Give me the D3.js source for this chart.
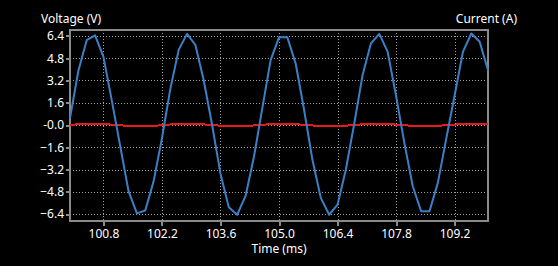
<!DOCTYPE html>
<html>
<head>
<meta charset="utf-8">
<script src="https://cdn.jsdelivr.net/npm/d3@7"></script>
<style>
  html, body { margin: 0; padding: 0; background: #000; }
  svg { display: block; }
  text { font-family: "Noto Sans", "DejaVu Sans", sans-serif; fill: #fff; }
  .grid-line { stroke: #a0a0a0; stroke-width: 1; stroke-dasharray: 1,2; shape-rendering: crispEdges; }
  .frame { fill: none; stroke: #8a8a8a; stroke-width: 2; shape-rendering: crispEdges; }
  .axis path { display: none; }
  .axis line { stroke: #8a8a8a; stroke-width: 2; shape-rendering: crispEdges; }
  .axis text { fill: #fff; font-size: 12px; }
</style>
</head>
<body>
<div id="chart"></div>
<script>
// sample times (ms), 0.2 ms spacing
const times = [100.0, 100.2, 100.4, 100.6, 100.8, 101.0, 101.2, 101.4, 101.6, 101.8,
  102.0, 102.2, 102.4, 102.6, 102.8, 103.0, 103.2, 103.4, 103.6, 103.8,
  104.0, 104.2, 104.4, 104.6, 104.8, 105.0, 105.2, 105.4, 105.6, 105.8,
  106.0, 106.2, 106.4, 106.6, 106.8, 107.0, 107.2, 107.4, 107.6, 107.8,
  108.0, 108.2, 108.4, 108.6, 108.8, 109.0, 109.2, 109.4, 109.6, 109.8, 110.0];

const voltage = [0.5, 3.9, 6.1, 6.45, 4.9, 1.75, -1.5, -4.75, -6.35, -6.15,
  -4.05, -0.95, 2.6, 5.4, 6.55, 5.75, 3.2, 0.0, -3.5, -5.92,
  -6.45, -5.1, -2.3, 1.2, 4.66, 6.3, 6.3, 4.4, 1.1, -2.5,
  -5.24, -6.45, -5.73, -3.2, 0.1, 3.6, 5.87, 6.55, 5.26, 2.1,
  -1.3, -4.4, -6.2, -6.2, -4.16, -1.0, 2.1, 5.26, 6.58, 5.99, 3.94];

const current = [0.007, 0.055, 0.085, 0.090, 0.069, 0.025, -0.021, -0.067, -0.089, -0.086,
  -0.057, -0.013, 0.036, 0.076, 0.092, 0.080, 0.045, 0.000, -0.049, -0.083,
  -0.090, -0.071, -0.032, 0.017, 0.065, 0.088, 0.088, 0.062, 0.015, -0.035,
  -0.073, -0.090, -0.080, -0.045, 0.001, 0.054, 0.082, 0.092, 0.074, 0.029,
  -0.018, -0.062, -0.087, -0.087, -0.058, -0.014, 0.029, 0.074, 0.092, 0.084, 0.055];

const xTicks = [100.8, 102.2, 103.6, 105.0, 106.4, 107.8, 109.2];
const yTicks = [6.4, 4.8, 3.2, 1.6, 0.0, -1.6, -3.2, -4.8, -6.4];

const W = 558, H = 266;
const margin = { top: 30, right: 70, bottom: 45, left: 70 };

const svg = d3.select("#chart").append("svg")
    .attr("width", W)
    .attr("height", H);

const x = d3.scaleLinear().domain([100, 110]).range([margin.left, W - margin.right]);
const y = d3.scaleLinear().domain([-6.9, 6.83]).range([H - margin.bottom, margin.top]);
// current axis (right side, no tick labels)
const yI = d3.scaleLinear().domain([-6.9, 6.83]).range([H - margin.bottom, margin.top]);

// GRID LINES
svg.selectAll(".grid-x")
    .data(xTicks)
    .enter().append("line")
    .attr("class", "grid-line")
    .attr("x1", d => Math.round(x(d)) + 0.5)
    .attr("x2", d => Math.round(x(d)) + 0.5)
    .attr("y1", margin.top)
    .attr("y2", H - margin.bottom);

svg.selectAll(".grid-y")
    .data(yTicks)
    .enter().append("line")
    .attr("class", "grid-line")
    .attr("x1", margin.left)
    .attr("x2", W - margin.right)
    .attr("y1", d => Math.round(y(d)) + 0.5)
    .attr("y2", d => Math.round(y(d)) + 0.5);

// AXES
svg.append("g")
    .attr("class", "axis x-axis")
    .attr("transform", `translate(0,${H - margin.bottom})`)
    .call(d3.axisBottom(x).tickValues(xTicks).tickSize(5).tickPadding(3)
        .tickFormat(d3.format(".1f")));

svg.append("g")
    .attr("class", "axis y-axis")
    .attr("transform", `translate(${margin.left},0)`)
    .call(d3.axisLeft(y).tickValues(yTicks).tickSize(4).tickPadding(2)
        .tickFormat(d => d === 0 ? "-0.0" : d3.format(".1f")(d)));

// frame
svg.append("rect")
    .attr("class", "frame")
    .attr("x", margin.left)
    .attr("y", margin.top)
    .attr("width", W - margin.left - margin.right)
    .attr("height", H - margin.top - margin.bottom);

// LINES
const vLine = d3.line()
    .x((d, i) => x(times[i]))
    .y(d => y(d));

const iLine = d3.line()
    .x((d, i) => x(times[i]))
    .y(d => yI(d));

svg.append("path")
    .datum(current)
    .attr("fill", "none")
    .attr("stroke", "#e8191c")
    .attr("stroke-width", 2)
    .attr("shape-rendering", "crispEdges")
    .attr("d", iLine);

svg.append("path")
    .datum(voltage)
    .attr("fill", "none")
    .attr("stroke", "#3b80c6")
    .attr("stroke-width", 2)
    .attr("stroke-linejoin", "round")
    .attr("d", vLine);

// AXIS TITLES
svg.append("text")
    .attr("x", 41)
    .attr("y", 23)
    .attr("font-size", "12px")
    .text("Voltage (V)");

svg.append("text")
    .attr("x", 517)
    .attr("y", 23)
    .attr("text-anchor", "end")
    .attr("font-size", "12px")
    .text("Current (A)");

svg.append("text")
    .attr("x", (margin.left + W - margin.right) / 2)
    .attr("y", 253)
    .attr("text-anchor", "middle")
    .attr("font-size", "12px")
    .text("Time (ms)");
</script>
</body>
</html>
